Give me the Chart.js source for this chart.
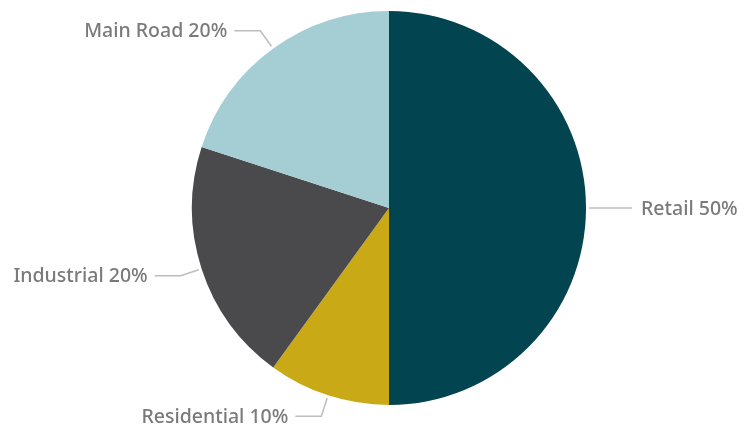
<!DOCTYPE html>
<html>
<head>
<meta charset="utf-8">
<script src="https://cdn.jsdelivr.net/npm/chart.js@4/dist/chart.umd.min.js"></script>
<style>
  html, body { margin: 0; padding: 0; background: #fff; }
  #wrap { width: 749px; height: 429px; position: relative; }
</style>
</head>
<body>
<div id="wrap"><canvas id="myChart"></canvas></div>
<script>
// chart data
var labels = ['Retail', 'Residential', 'Industrial', 'Main Road'];
var values = [50, 10, 20, 20];
var colors = ['#02444f', '#c9a916', '#4a4a4c', '#a4ced4'];

// draws the outside labels with elbow leader lines
var outLabels = {
    id: 'outLabels',
    afterDatasetsDraw: function(chart) {
        var ctx = chart.ctx;
        var meta = chart.getDatasetMeta(0);
        var total = values.reduce(function(a, b) { return a + b; }, 0);
        ctx.save();
        ctx.font = '500 19.5px "Noto Sans", Roboto, sans-serif';
        ctx.textBaseline = 'middle';
        meta.data.forEach(function(arc, i) {
            var p = arc.getProps(['x', 'y', 'startAngle', 'endAngle', 'outerRadius'], true);
            var mid = (p.startAngle + p.endAngle) / 2;
            var cos = Math.cos(mid), sin = Math.sin(mid);
            var x0 = p.x + cos * (p.outerRadius + 3);
            var y0 = p.y + sin * (p.outerRadius + 3);
            var x1 = p.x + cos * (p.outerRadius + 22);
            var y1 = p.y + sin * (p.outerRadius + 22);
            var right = cos >= 0;
            var x2 = x1 + (right ? 24 : -26);
            ctx.strokeStyle = '#bdbdbd';
            ctx.lineWidth = 1.5;
            ctx.beginPath();
            ctx.moveTo(x0, y0);
            ctx.lineTo(x1, y1);
            ctx.lineTo(x2, y1);
            ctx.stroke();
            ctx.fillStyle = '#7a7a7a';
            ctx.textAlign = right ? 'left' : 'right';
            var pct = Math.round(values[i] / total * 100);
            ctx.fillText(labels[i] + ' ' + pct + '%', x2 + (right ? 9 : -7), y1 + 1);
        });
        ctx.restore();
    }
};

var ctx = document.getElementById('myChart').getContext('2d');
var chart = new Chart(ctx, {
    type: 'pie',
    data: {
        labels: labels,
        datasets: [{
            data: values,
            backgroundColor: colors,
            borderWidth: 0
        }]
    },
    options: {
        responsive: true,
        maintainAspectRatio: false,
        animation: false,
        layout: {
            padding: { top: 11, bottom: 24, left: 192, right: 163 }
        },
        plugins: {
            legend: { display: false },
            tooltip: { enabled: false }
        }
    },
    plugins: [outLabels]
});
</script>
</body>
</html>
